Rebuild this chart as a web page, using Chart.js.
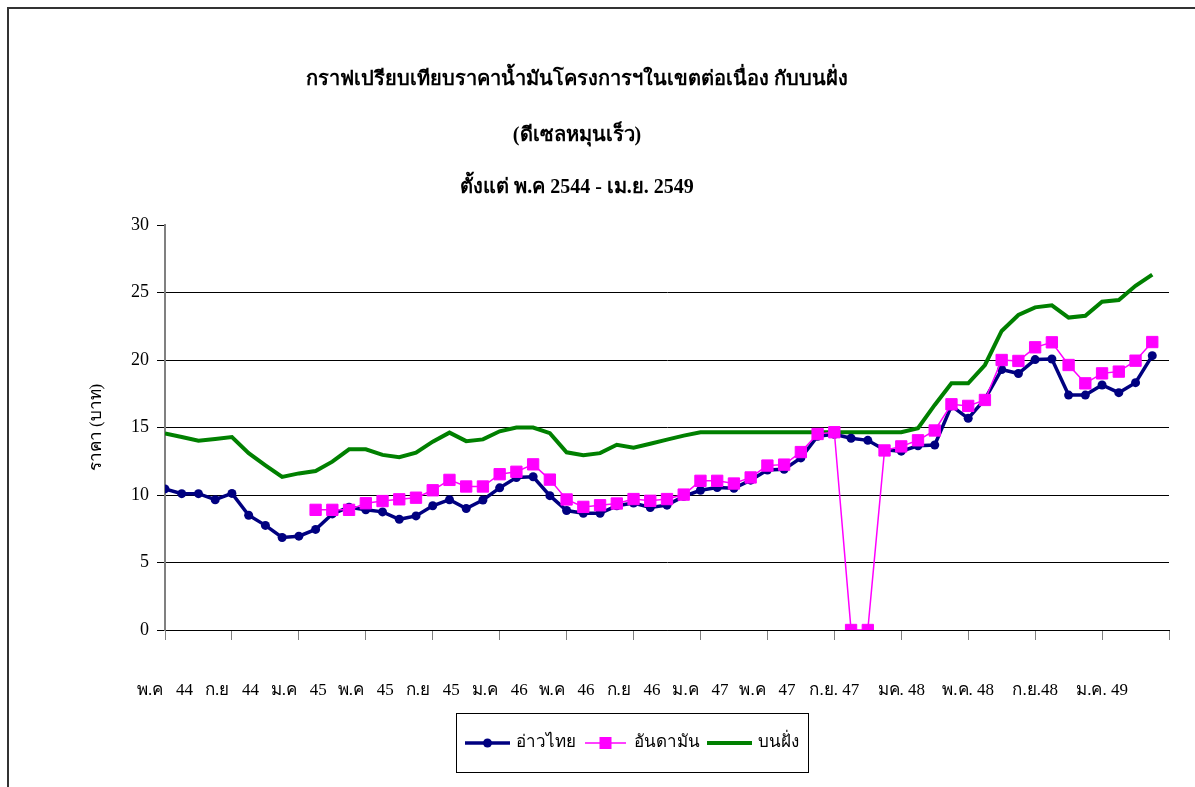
<!DOCTYPE html>
<html>
<head>
<meta charset="utf-8">
<script src="https://cdn.jsdelivr.net/npm/chart.js@4.4.1/dist/chart.umd.min.js"></script>
<style>
  html, body { margin: 0; padding: 0; background: #fff; overflow: hidden; }
  #wrap { position: relative; width: 1195px; height: 787px; overflow: hidden; }
  #frame { position: absolute; left: 7px; top: 7px; width: 1200px; height: 800px;
           border-top: 2px solid #333; border-left: 2px solid #333; pointer-events: none; }
</style>
</head>
<body>
<div id="wrap">
  <canvas id="dieselChart" width="1195" height="787"></canvas>
  <div id="frame"></div>
</div>
<script>
// Title lines
const titleLines = [
    'กราฟเปรียบเทียบราคาน้ำมันโครงการฯในเขตต่อเนื่อง กับบนฝั่ง',
    '(ดีเซลหมุนเร็ว)',
    'ตั้งแต่ พ.ค 2544 - เม.ย. 2549'
];

// X tick labels, one every 4 months (May 2544 .. Jan 2549)
const tickLabels = [
    'พ.ค   44', 'ก.ย   44', 'ม.ค   45', 'พ.ค   45', 'ก.ย   45',
    'ม.ค   46', 'พ.ค   46', 'ก.ย   46', 'ม.ค   47', 'พ.ค   47',
    'ก.ย. 47', 'มค. 48', 'พ.ค. 48', 'ก.ย.48', 'ม.ค. 49'
];

const seriesNames = ['อ่าวไทย', 'อันดามัน', 'บนฝั่ง'];

// Monthly prices (baht), May 2544 - Apr 2549
const gulfPrices = [
    10.45, 10.1, 10.1, 9.65, 10.12, 8.5, 7.75, 6.85, 6.95, 7.45,
    8.6, 9.1, 8.9, 8.75, 8.2, 8.45, 9.2, 9.65, 9.0, 9.63,
    10.53, 11.3, 11.35, 9.95, 8.85, 8.65, 8.65, 9.2, 9.4, 9.07,
    9.25, 9.9, 10.35, 10.55, 10.5, 11.1, 11.85, 11.9, 12.75, 14.35,
    14.5, 14.2, 14.05, 13.35, 13.25, 13.65, 13.7, 16.6, 15.68, 17.1,
    19.3, 19.0, 20.03, 20.07, 17.4, 17.4, 18.15, 17.58, 18.32, 20.32
];

const andamanPrices = [
    null, null, null, null, null, null, null, null, null, 8.9,
    8.9, 8.9, 9.39, 9.55, 9.68, 9.8, 10.35, 11.12, 10.63, 10.63,
    11.54, 11.72, 12.27, 11.14, 9.67, 9.12, 9.24, 9.37, 9.7, 9.57,
    9.7, 10.03, 11.05, 11.05, 10.85, 11.3, 12.18, 12.25, 13.18, 14.52,
    14.65, 0, 0, 13.3, 13.6, 14.05, 14.78, 16.72, 16.6, 17.04,
    20.0, 19.93, 20.94, 21.31, 19.63, 18.27, 19.01, 19.14, 19.95, 21.33
];

const onshorePrices = [
    14.55, 14.3, 14.02, 14.15, 14.29, 13.1, 12.2, 11.34, 11.6, 11.77,
    12.47, 13.38, 13.38, 12.97, 12.8, 13.13, 13.95, 14.62, 13.99, 14.12,
    14.72, 15.0, 15.0, 14.58, 13.16, 12.95, 13.1, 13.72, 13.5, 13.8,
    14.1, 14.4, 14.65, 14.65, 14.65, 14.65, 14.65, 14.65, 14.65, 14.65,
    14.65, 14.65, 14.65, 14.65, 14.65, 14.95, 16.67, 18.27, 18.27, 19.63,
    22.15, 23.33, 23.9, 24.05, 23.14, 23.28, 24.32, 24.44, 25.5, 26.33
];

const serifFont = '"Liberation Serif", "Times New Roman", serif';

function toPoints(values) {
    return values.map((v, i) => ({ x: i, y: v }));
}

// Title drawn above the plot, centred a bit left of the page middle
const titlePlugin = {
    id: 'titleLines',
    afterDraw(chart) {
        const c = chart.ctx;
        c.save();
        c.fillStyle = '#000';
        c.font = 'bold 20px ' + serifFont;
        c.textAlign = 'center';
        c.textBaseline = 'middle';
        const ys = [80, 136, 188];
        titleLines.forEach((t, i) => c.fillText(t, 577, ys[i]));
        c.restore();
    }
};

// Excel-like legend box with line + marker samples
const legendPlugin = {
    id: 'lineLegend',
    afterDraw(chart) {
        const c = chart.ctx;
        const box = { x: 456.5, y: 713.5, w: 352, h: 59 };
        c.save();
        c.strokeStyle = '#000';
        c.lineWidth = 1;
        c.strokeRect(box.x, box.y, box.w, box.h);
        c.font = '17px ' + serifFont;
        c.textBaseline = 'middle';
        c.textAlign = 'left';
        const cy = 743;
        const items = [
            { x0: 465, x1: 510, tx: 516 },
            { x0: 585, x1: 626, tx: 634 },
            { x0: 707, x1: 752, tx: 758 }
        ];
        chart.data.datasets.forEach((ds, i) => {
            const it = items[i];
            c.strokeStyle = ds.borderColor;
            c.lineWidth = ds.borderWidth;
            c.beginPath();
            c.moveTo(it.x0, cy);
            c.lineTo(it.x1, cy);
            c.stroke();
            const mx = (it.x0 + it.x1) / 2;
            c.fillStyle = ds.pointBackgroundColor;
            if (ds.pointStyle === 'circle' && ds.pointRadius > 0) {
                c.beginPath();
                c.arc(mx, cy, 4.5, 0, Math.PI * 2);
                c.fill();
            } else if (ds.pointStyle === 'rect' && ds.pointRadius > 0) {
                c.fillRect(mx - 6, cy - 6, 12, 12);
            }
            c.fillStyle = '#000';
            c.fillText(ds.label, it.tx, cy);
        });
        c.restore();
    }
};

const ctx = document.getElementById('dieselChart').getContext('2d');
new Chart(ctx, {
    type: 'line',
    data: {
        datasets: [
            {
                label: seriesNames[0],
                data: toPoints(gulfPrices),
                borderColor: '#000080',
                backgroundColor: '#000080',
                pointBackgroundColor: '#000080',
                pointBorderColor: '#000080',
                borderWidth: 3.5,
                pointStyle: 'circle',
                pointRadius: 4.5,
                pointBorderWidth: 0,
                tension: 0,
                order: 2
            },
            {
                label: seriesNames[1],
                data: toPoints(andamanPrices),
                borderColor: '#ff00ff',
                backgroundColor: '#ff00ff',
                pointBackgroundColor: '#ff00ff',
                pointBorderColor: '#ff00ff',
                borderWidth: 1.5,
                pointStyle: 'rect',
                pointRadius: 8,
                pointBorderWidth: 1,
                tension: 0,
                order: 1
            },
            {
                label: seriesNames[2],
                data: toPoints(onshorePrices),
                borderColor: '#008000',
                backgroundColor: '#008000',
                pointBackgroundColor: '#008000',
                borderWidth: 4,
                pointStyle: false,
                pointRadius: 0,
                tension: 0,
                order: 3
            }
        ]
    },
    options: {
        responsive: false,
        animation: false,
        events: [],
        layout: { padding: { left: 0, right: 26, top: 225, bottom: 0 } },
        plugins: {
            legend: { display: false },
            title: { display: false },
            tooltip: { enabled: false }
        },
        scales: {
            x: {
                type: 'linear',
                min: 0,
                max: 60,
                afterFit(scale) {
                    scale.height = 157;
                    // keep the tick label padding from shrinking the plot
                    scale.paddingLeft = 0;
                    scale.paddingRight = 0;
                },
                afterBuildTicks(scale) {
                    scale.ticks = [];
                    for (let v = 0; v <= 60; v += 4) scale.ticks.push({ value: v });
                },
                ticks: {
                    autoSkip: false,
                    maxRotation: 0,
                    padding: 40,
                    color: '#000',
                    font: { family: serifFont, size: 17 },
                    callback: (value) => tickLabels[value / 4] || ''
                },
                grid: {
                    drawOnChartArea: false,
                    drawTicks: true,
                    tickLength: 10,
                    tickColor: '#808080',
                    tickWidth: 1
                },
                border: { display: true, color: '#000', width: 1 }
            },
            y: {
                min: 0,
                max: 30,
                afterFit(scale) { scale.width = 165; },
                ticks: {
                    stepSize: 5,
                    padding: 8,
                    color: '#000',
                    font: { family: serifFont, size: 18 }
                },
                grid: {
                    color: (c) => (c.tick && c.tick.value === 30 ? 'rgba(0,0,0,0)' : '#000'),
                    tickColor: '#000',
                    lineWidth: 1,
                    tickLength: 8
                },
                border: { display: true, color: '#808080', width: 2 },
                title: {
                    display: true,
                    text: 'ราคา (บาท)',
                    color: '#000',
                    padding: { top: 86, bottom: 0 },
                    font: { family: serifFont, size: 17 }
                }
            }
        }
    },
    plugins: [titlePlugin, legendPlugin]
});
</script>
</body>
</html>
